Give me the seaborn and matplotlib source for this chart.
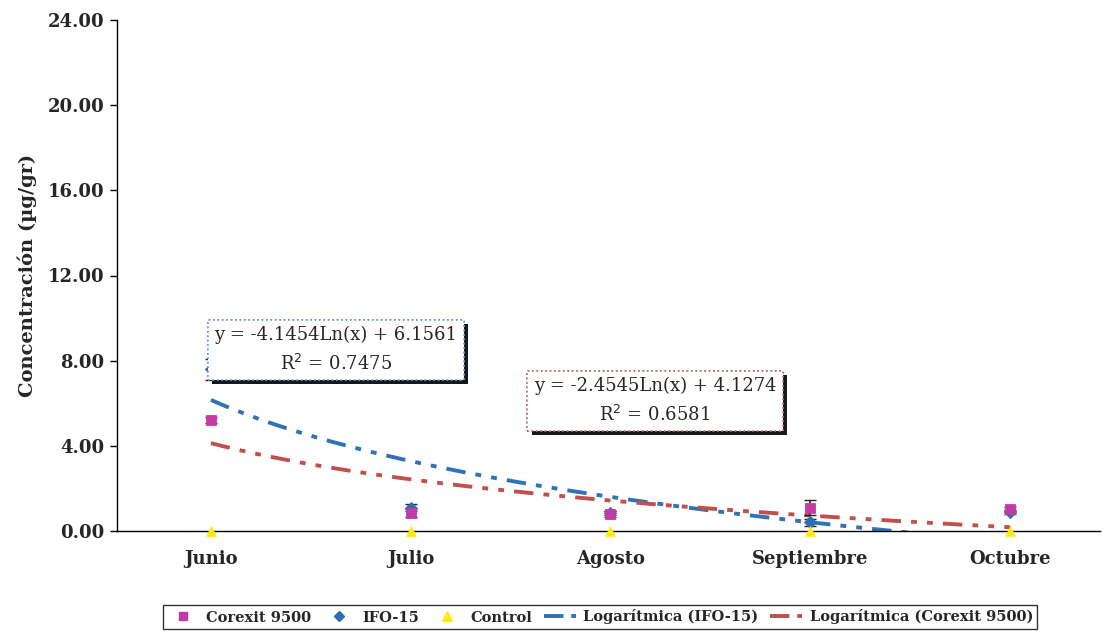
import numpy as np
import pandas as pd
import matplotlib
matplotlib.use("Agg")
import matplotlib.pyplot as plt
import matplotlib.patheffects as pe
import seaborn as sns
from matplotlib.lines import Line2D

months = ["Junio", "Julio", "Agosto", "Septiembre", "Octubre"]
corexit = [5.2, 0.85, 0.8, 1.1, 1.05]
corexit_err = [0.15, 0.2, 0.15, 0.35, 0.1]
ifo = [7.6, 1.1, 0.85, 0.4, 0.9]
ifo_err = [0.5, 0.15, 0.1, 0.15, 0.1]
control = [0.0, 0.0, 0.0, 0.0, 0.0]
ifo_fit = (-4.1454, 6.1561, 0.7475)
cor_fit = (-2.4545, 4.1274, 0.6581)
yticks = [0, 4, 8, 12, 16, 20, 24]

sns.set_theme(style="white")
plt.rcParams['font.family'] = ['DejaVu Serif']

fig = plt.figure(figsize=(11.02, 6.31), dpi=100)
ax = fig.add_axes([117/1102, 1-531/631, (1100-117)/1102, (531-20)/631])

xpos = np.arange(1, len(months)+1)
c_cor = "#C23BA4"
c_ifo = "#2E6DB4"
c_ctl = "#FFE81A"
c_lifo = "#2F72B8"
c_lcor = "#C0504D"
dash = (0, (5, 2.6, 1.5, 2.6, 1.5, 2.6))

# trend lines
xx = np.linspace(1, 5, 200)
df_fit = pd.DataFrame({
    "x": np.concatenate([xx, xx]),
    "y": np.concatenate([ifo_fit[0]*np.log(xx)+ifo_fit[1], cor_fit[0]*np.log(xx)+cor_fit[1]]),
    "s": ["Logarítmica (IFO-15)"]*len(xx) + ["Logarítmica (Corexit 9500)"]*len(xx),
})
sns.lineplot(data=df_fit[df_fit.s == "Logarítmica (IFO-15)"], x="x", y="y", color=c_lifo,
             lw=2.8, ax=ax, legend=False)
sns.lineplot(data=df_fit[df_fit.s == "Logarítmica (Corexit 9500)"], x="x", y="y", color=c_lcor,
             lw=2.8, ax=ax, legend=False)
for ln in ax.lines:
    ln.set_linestyle(dash)

# error bars
ax.errorbar(xpos, ifo, yerr=ifo_err, fmt="none", ecolor="#222222", elinewidth=1.2, capsize=4, zorder=3)
ax.errorbar(xpos, corexit, yerr=corexit_err, fmt="none", ecolor="#222222", elinewidth=1.2, capsize=4, zorder=3)

df = pd.DataFrame({"x": np.tile(xpos, 3), "y": ifo + corexit + control,
                   "s": ["IFO-15"]*5 + ["Corexit 9500"]*5 + ["Control"]*5})
sns.scatterplot(data=df[df.s == "IFO-15"], x="x", y="y", marker="D", color=c_ifo, s=40,
                edgecolor=c_ifo, ax=ax, zorder=4, legend=False)
sns.scatterplot(data=df[df.s == "Corexit 9500"], x="x", y="y", marker="s", color=c_cor, s=55,
                edgecolor=c_cor, ax=ax, zorder=5, legend=False)
sns.scatterplot(data=df[df.s == "Control"], x="x", y="y", marker="^", color=c_ctl, s=50,
                edgecolor=c_ctl, ax=ax, zorder=6, legend=False, clip_on=False)

ax.set_xlim(0.53, 5.45)
ax.set_ylim(0, 24)
ax.set_yticks(yticks)
ax.set_yticklabels([f"{v:.2f}" for v in yticks], fontsize=13, fontweight="bold")
ax.set_xticks(xpos)
ax.set_xticklabels(months, fontsize=13, fontweight="bold")
ax.set_xticks(np.arange(1.5, 5.0, 1.0), minor=True)
ax.tick_params(axis="x", which="major", length=0, pad=14)
ax.tick_params(axis="x", which="minor", length=5, direction="out", color="black", width=1)
ax.tick_params(axis="y", length=5, direction="out", color="black", width=1, pad=4, left=True)
ax.set_xlabel("")
ax.set_ylabel("Concentración (µg/gr)", fontsize=14, fontweight="bold", labelpad=8)
for side in ["top", "right"]:
    ax.spines[side].set_visible(False)
for side in ["left", "bottom"]:
    ax.spines[side].set_color("black")
    ax.spines[side].set_linewidth(1)
ax.grid(False)

# equation boxes
def eqbox(x, y, eq, r2, edge):
    t = ax.text(x, y, f"{eq}\nR$^2$ = {r2}", transform=fig.transFigure, fontsize=13,
                ha="center", va="center", linespacing=1.6, zorder=10,
                bbox=dict(boxstyle="square,pad=0.35", facecolor="white", edgecolor=edge,
                          linestyle=":", linewidth=1.2))
    t.get_bbox_patch().set_path_effects([pe.withSimplePatchShadow(offset=(3, -3),
                                         shadow_rgbFace="black", alpha=0.9), pe.Normal()])
    return t

eqbox(336/1102, 1-350/631, f"y = {ifo_fit[0]}Ln(x) + {ifo_fit[1]}", ifo_fit[2], "#5A9BD5")
eqbox(655/1102, 1-401/631, f"y = {cor_fit[0]}Ln(x) + {cor_fit[1]}", cor_fit[2], "#C06060")

# legend
handles = [
    Line2D([], [], marker="s", color=c_cor, ls="none", markersize=6),
    Line2D([], [], marker="D", color=c_ifo, ls="none", markersize=5),
    Line2D([], [], marker="^", color=c_ctl, ls="none", markersize=7),
    Line2D([], [], color=c_lifo, lw=2.8, ls=(0, (5, 2, 1.5, 2))),
    Line2D([], [], color=c_lcor, lw=2.8, ls=(0, (5, 2, 1.5, 2))),
]
labels = ["Corexit 9500", "IFO-15", "Control", "Logarítmica (IFO-15)", "Logarítmica (Corexit 9500)"]
leg = fig.legend(handles, labels, loc="center", bbox_to_anchor=(600/1102, 1-617/631), ncol=5,
                 frameon=True, prop={"size": 10.5, "weight": "bold"}, handlelength=2.2,
                 columnspacing=0.8, handletextpad=0.5, borderpad=0.3, fancybox=False)
leg.get_frame().set_edgecolor("black")
leg.get_frame().set_linewidth(1)

fig.savefig("out.png", dpi=100, facecolor="white")
